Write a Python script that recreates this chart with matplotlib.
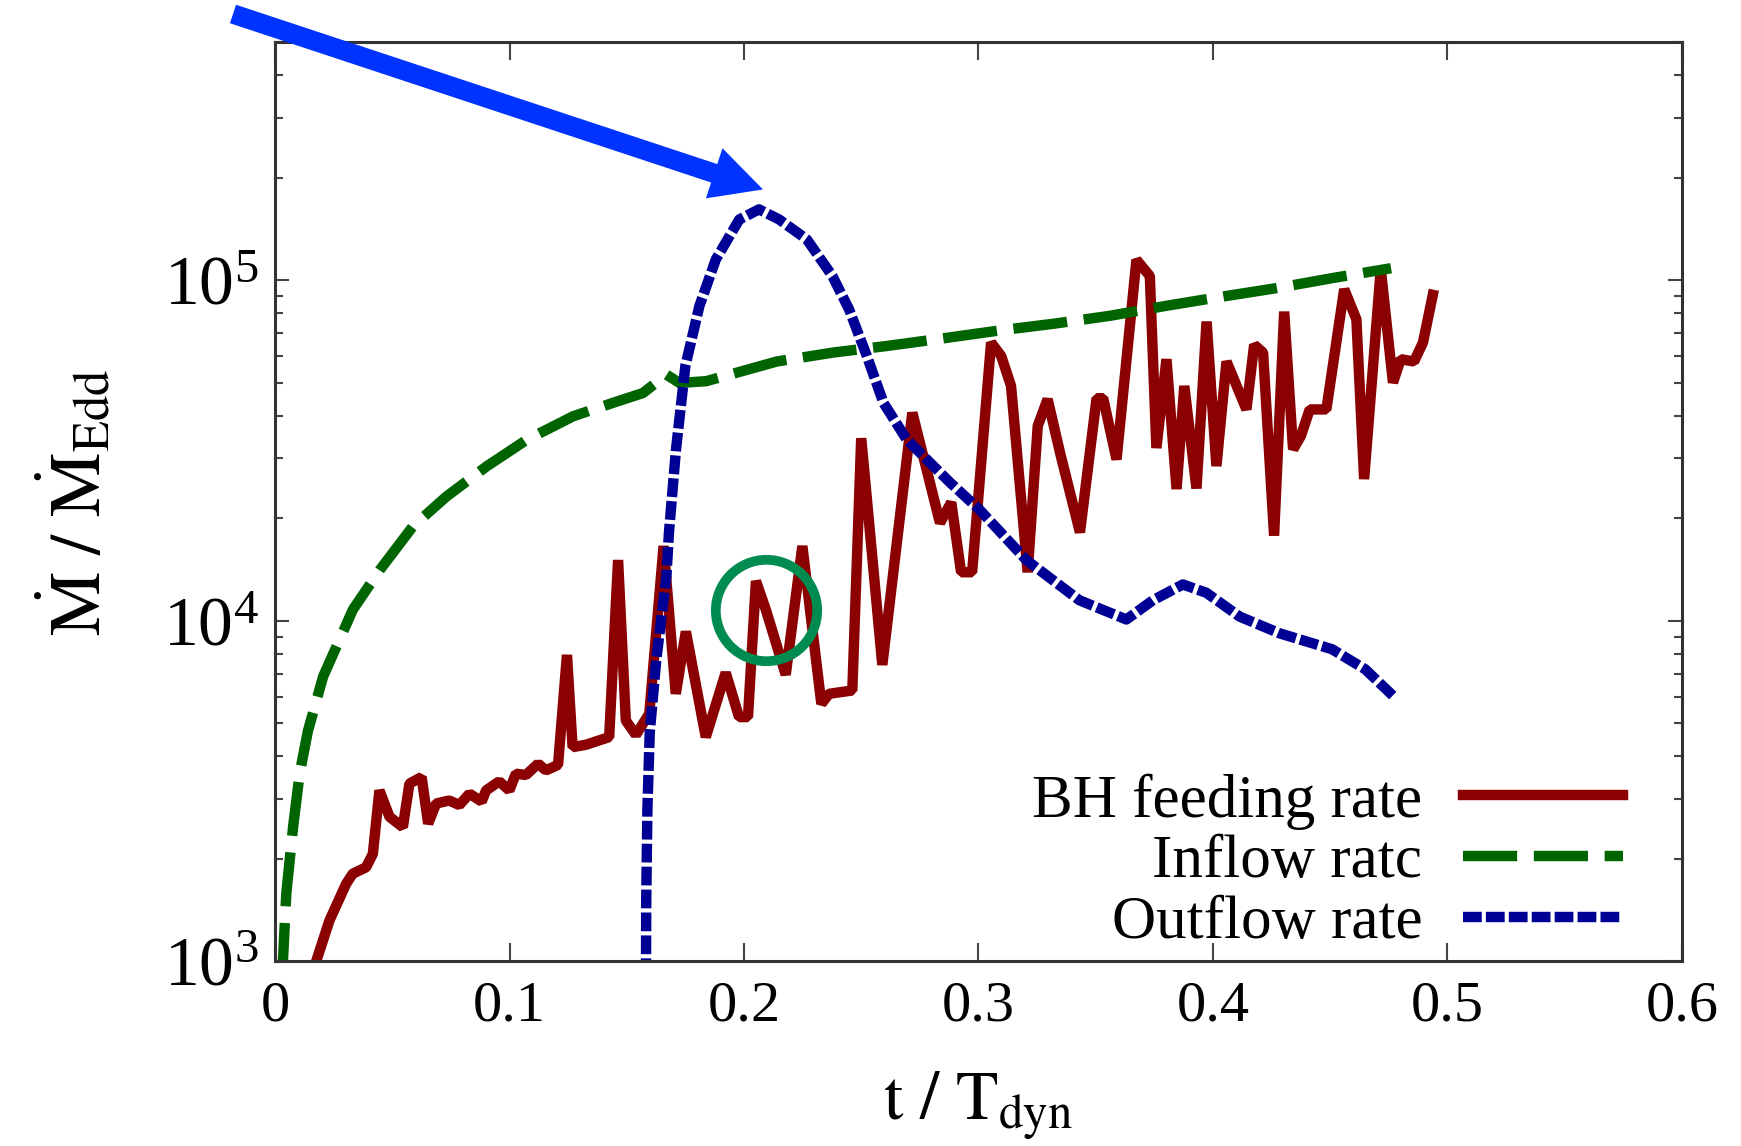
# Mass flow rates vs time (log scale), with an arrow and a circle marking features
import matplotlib
matplotlib.use('Agg')
import matplotlib.pyplot as plt

# BH feeding rate (solid dark red)
feed_t = [0.0175, 0.0232, 0.0303, 0.0331, 0.0388, 0.0417, 0.0445, 0.0488, 0.0545, 0.0573,
          0.0625, 0.0653, 0.0687, 0.0743, 0.0786, 0.0829, 0.0881, 0.0900, 0.0956, 0.0999,
          0.1027, 0.1070, 0.1122, 0.1155, 0.1207, 0.1245, 0.1269, 0.1326, 0.1425, 0.1463,
          0.1496, 0.1539, 0.1596, 0.1657, 0.1709, 0.1752, 0.1837, 0.1922, 0.1979, 0.2017,
          0.2051, 0.2093, 0.2178, 0.2249, 0.2330, 0.2363, 0.2462, 0.2500, 0.2590, 0.2718,
          0.2836, 0.2884, 0.2926, 0.2973, 0.3054, 0.3097, 0.3139, 0.3210, 0.3253, 0.3295,
          0.3348, 0.3433, 0.3504, 0.3532, 0.3589, 0.3674, 0.3731, 0.3759, 0.3802, 0.3845,
          0.3878, 0.3930, 0.3973, 0.4015, 0.4058, 0.4143, 0.4176, 0.4214, 0.4261, 0.4304,
          0.4342, 0.4375, 0.4413, 0.4484, 0.4560, 0.4612, 0.4645, 0.4716, 0.4768, 0.4801,
          0.4858, 0.4896, 0.4938]
feed_rate = [1000, 1320, 1690, 1810, 1890, 2070, 3180, 2660, 2480, 3330,
             3480, 2540, 2910, 2970, 2880, 3110, 2950, 3180, 3380, 3180,
             3560, 3530, 3810, 3640, 3780, 7950, 4260, 4330, 4560, 15100,
             5100, 4630, 5340, 16600, 6110, 9310, 4560, 7050, 5220, 5220,
             13100, 10800, 6950, 16600, 5710, 6110, 6250, 34400, 7430, 40900,
             19400, 22300, 13900, 13900, 65700, 60000, 49000, 13900, 37400, 44800,
             31200, 18200, 45100, 45100, 29800, 115000, 103000, 32200, 58700, 24400,
             49000, 24500, 75700, 28500, 57800, 41800, 64700, 61400, 17800, 81000,
             31900, 34900, 41800, 41800, 94200, 76900, 26100, 108000, 50100, 58700,
             57800, 65700, 90700]

# Inflow rate (long dashes, dark green)
inflow_t = [0.003, 0.0048, 0.0077, 0.0105, 0.0140, 0.0205, 0.0332, 0.0446, 0.0589, 0.0731,
            0.0901, 0.1072, 0.1271, 0.1441, 0.1569, 0.1669, 0.1725, 0.1839, 0.214, 0.238,
            0.261, 0.285, 0.309, 0.332, 0.356, 0.380, 0.403, 0.427, 0.451, 0.476]
inflow_rate = [900, 1590, 2490, 3570, 4750, 6870, 10800, 14100, 19000, 23200,
               28400, 34000, 39900, 43700, 46700, 52900, 50000, 50600, 57800, 61400,
               64200, 67600, 71300, 74600, 78700, 84200, 89400, 94900, 101600, 108600]

# Outflow rate (short dashes, navy)
outflow_t = [0.1582, 0.1583, 0.1588, 0.1598, 0.1626, 0.1669, 0.168, 0.171, 0.175, 0.181,
             0.188, 0.198, 0.2064, 0.215, 0.2268, 0.2377, 0.2448, 0.2524, 0.2595, 0.2694,
             0.2879, 0.3005, 0.3204, 0.3431, 0.3631, 0.3744, 0.3872, 0.3972, 0.4114, 0.4284,
             0.4508, 0.465, 0.4768]
outflow_rate = [900, 1500, 2800, 4700, 7700, 13500, 18200, 31900, 56100, 84200,
                115300, 151000, 161700, 151000, 132000, 103000, 82300, 60000, 43700, 34100,
                25500, 21200, 15100, 11500, 10100, 11500, 12800, 12100, 10300, 9200,
                8260, 7210, 6030]

labels = ['BH feeding rate', 'Inflow ratc', 'Outflow rate']

# annotation targets (data coords)
arrow_tip = (0.2081, 1.85e5)
circle_at = (0.2095, 10800)

plt.rcParams['font.family'] = ['Liberation Serif', 'DejaVu Serif']
plt.rcParams['mathtext.fontset'] = 'stix'


def main():
    fig = plt.figure(figsize=(17.41, 11.46), dpi=100)
    ax = fig.add_axes([0.158, 0.161, 0.808, 0.802])

    ax.plot(feed_t, feed_rate, color='#8b0000', lw=7.5, solid_joinstyle='bevel',
            label=labels[0])
    ax.plot(inflow_t, inflow_rate, color='#006400', lw=7.5, dashes=(5.2, 1.6),
            label=labels[1])
    ax.plot(outflow_t, outflow_rate, color='#000094', lw=7.5, dashes=(1.8, 0.4),
            label=labels[2])

    ax.set_yscale('log')
    ax.set_xlim(0, 0.6)
    ax.set_ylim(1e3, 5e5)
    ax.set_xticks([0, 0.1, 0.2, 0.3, 0.4, 0.5, 0.6])
    ax.set_xticklabels(['0', '0.1', '0.2', '0.3', '0.4', '0.5', '0.6'])

    ax.tick_params(axis='both', which='both', direction='in', top=True, right=True,
                   colors='#444444', labelcolor='black', width=1.5)
    ax.tick_params(axis='x', which='major', length=13, pad=14, labelsize=42)
    ax.tick_params(axis='y', which='major', length=10, pad=12, labelsize=50)
    ax.tick_params(axis='y', which='minor', length=6)
    for s in ax.spines.values():
        s.set_linewidth(2.2)
        s.set_color('#333333')

    ax.set_xlabel(r'$\mathrm{t\ /\ T_{dyn}}$', fontsize=50)
    ax.set_ylabel(r'$\dot{\mathrm{M}}\ /\ \dot{\mathrm{M}}_{\mathrm{Edd}}$', fontsize=52)
    ax.xaxis.set_label_coords(0.5, -0.117)
    ax.yaxis.set_label_coords(-0.114, 0.5)

    ax.legend(loc='center right', bbox_to_anchor=(0.958, 0.108), frameon=False,
              markerfirst=False, fontsize=44, handlelength=2.62, handletextpad=0.66,
              labelspacing=0.08, borderpad=0, borderaxespad=0)

    # green circle around the feature near t~0.21
    ax.plot([circle_at[0]], [circle_at[1]], marker='o', ms=73, mfc='none',
            mec='#008c50', mew=7, ls='none')

    # big blue arrow coming from outside the top-left corner
    ax.annotate('', xy=arrow_tip, xycoords='data', xytext=(233, 1146 - 14),
                textcoords='figure pixels', annotation_clip=False,
                arrowprops=dict(arrowstyle='simple,head_length=37,head_width=38,tail_width=14',
                                mutation_scale=1, color='#0033ff', lw=0,
                                shrinkA=0, shrinkB=0))

    plt.savefig('out.png', dpi=100)


if __name__ == "__main__":
    main()
